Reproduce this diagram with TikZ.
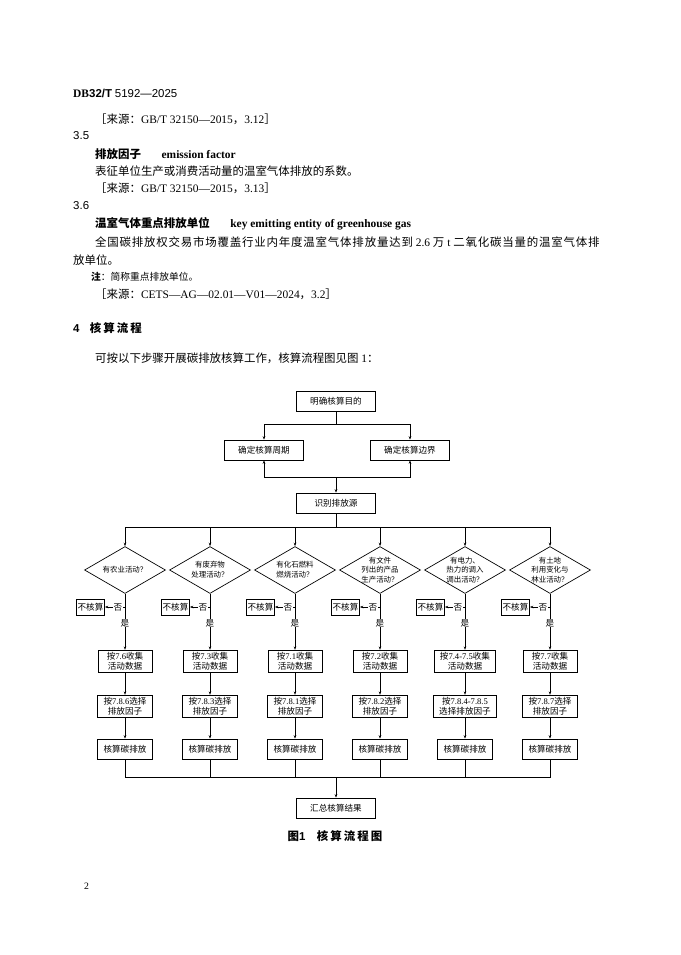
\documentclass[tikz,border=0pt]{standalone}
\usepackage{fontspec}
\setmainfont{Liberation Serif}
\setsansfont{Liberation Sans}
\newfontfamily\cjk{Noto Sans CJK SC}
\newfontfamily\cjkw{Noto Sans CJK SC}[LetterSpace=7]
\newfontfamily\cjks{Noto Sans CJK SC}[LetterSpace=18]
\usetikzlibrary{arrows.meta, positioning, shapes.geometric}

\newcommand{\zh}[1]{{\cjk #1}}

\begin{document}
\begin{tikzpicture}[x=0.8734pt, y=-0.8734pt,
      txt/.style={anchor=west, inner sep=0pt, font=\fontsize{10}{12}\selectfont},
      box/.style={draw, line width=0.6pt, inner sep=1.5pt, align=center,
                  font=\cjk\fontsize{7.5}{9}\selectfont},
      bigbox/.style={box, minimum width=69pt, minimum height=17.5pt},
      smallbox/.style={box, inner xsep=5pt, minimum width=47pt, minimum height=17.5pt},
      skipbox/.style={box, inner sep=1pt, minimum height=14pt},
      dia/.style={draw, line width=0.6pt, diamond, inner sep=0pt,
                  minimum width=70.7pt, minimum height=41pt},
      dtext/.style={align=center, inner sep=0pt, font=\cjk\fontsize{6.5}{8.5}\selectfont},
      lbl/.style={inner sep=0.6pt, font=\cjk\fontsize{7.5}{9}\selectfont},
      arr/.style={-{Stealth[length=3pt, width=2.2pt]}, line width=0.5pt},
      conn/.style={line width=0.5pt}]
    \fill[white] (0,0) rectangle (681,955);
    \useasboundingbox (0,0) rectangle (681,955);

    % page text
    \node[txt] (hdr) at (73,93) {{\bfseries DB}{\sffamily\bfseries 32/T} {\sffamily 5192—2025}};
    \node[txt] (src1) at (95,119) {\zh{［来源：}GB/T 32150—2015\zh{，}3.12\zh{］}};
    \node[txt, font=\sffamily\fontsize{10}{12}\selectfont] (n35) at (73,136) {3.5};
    \node[txt] (term1) at (95,154) {\zh{\bfseries 排放因子}\hspace{1.8em}\textbf{emission factor}};
    \node[txt] (def1) at (95,171) {\zh{表征单位生产或消费活动量的温室气体排放的系数。}};
    \node[txt] (src2) at (95,188) {\zh{［来源：}GB/T 32150—2015\zh{，}3.13\zh{］}};
    \node[txt, font=\sffamily\fontsize{10}{12}\selectfont] (n36) at (73,206) {3.6};
    \node[txt] (term2) at (95,224) {\zh{\bfseries 温室气体重点排放单位}\hspace{1.8em}\textbf{key emitting entity of greenhouse gas}};
    \node[txt] (def2a) at (95,242) {{\cjkw 全国碳排放权交易市场覆盖行业内年度温室气体排放量达到} 2.6 {\cjkw 万} t {\cjkw 二氧化碳当量的温室气体排}};
    \node[txt] (def2b) at (73,260) {\zh{放单位。}};
    \node[txt, font=\fontsize{8.5}{10}\selectfont] (note) at (91,277) {\zh{\bfseries 注}\zh{：简称重点排放单位。}};
    \node[txt] (src3) at (95,294) {\zh{［来源：}CETS—AG—02.01—V01—2024\zh{，}3.2\zh{］}};
    \node[txt] (sec4) at (73,328) {{\sffamily\bfseries 4}\hspace{0.9em}{\cjks\bfseries 核算流程}};
    \node[txt] (intro) at (95,358) {\zh{可按以下步骤开展碳排放核算工作，核算流程图见图} 1\zh{：}};

    % flowchart
    \node[bigbox] (goal)   at (336,401) {明确核算目的};
    \node[bigbox] (period) at (264,450) {确定核算周期};
    \node[bigbox] (bound)  at (410,450) {确定核算边界};
    \node[bigbox] (ident)  at (336,503) {识别排放源};
    \node[bigbox] (total)  at (336,808) {汇总核算结果};
    \coordinate (split)   at (336,424);
    \coordinate (merge)   at (336,477);
    \coordinate (fan)     at (336,527);
    \coordinate (collect) at (336,777);

    \draw[conn] (goal) -- (split);
    \draw[arr] (split) -| (period);
    \draw[arr] (split) -| (bound);
    \draw[arr] (merge) -| (period);
    \draw[arr] (merge) -| (bound);
    \draw[arr] (merge) -- (ident);
    \draw[conn] (ident) -- (fan);
    \draw[arr] (collect) -- (total);

    \foreach \i/\x/\q/\c/\f in {
        1/125/{有农业活动？}/{按{\rmfamily 7.6}收集\\活动数据}/{按{\rmfamily 7.8.6}选择\\排放因子},
        2/210/{有废弃物\\处理活动？}/{按{\rmfamily 7.3}收集\\活动数据}/{按{\rmfamily 7.8.3}选择\\排放因子},
        3/295/{有化石燃料\\燃烧活动？}/{按{\rmfamily 7.1}收集\\活动数据}/{按{\rmfamily 7.8.1}选择\\排放因子},
        4/380/{有文件\\列出的产品\\生产活动？}/{按{\rmfamily 7.2}收集\\活动数据}/{按{\rmfamily 7.8.2}选择\\排放因子},
        5/465/{有电力、\\热力的调入\\调出活动？}/{按{\rmfamily 7.4-7.5}收集\\活动数据}/{按{\rmfamily 7.8.4-7.8.5}\\选择排放因子},
        6/550/{有土地\\利用变化与\\林业活动？}/{按{\rmfamily 7.7}收集\\活动数据}/{按{\rmfamily 7.8.7}选择\\排放因子}} {
      \node[dia] (d\i) at (\x,570) {};
      \node[dtext] (q\i) at (d\i) {\q};
      \node[lbl] (n\i) at ({\x-7},607) {否};
      \node[skipbox] (s\i) at ({\x-34.5},607) {不核算};
      \node[smallbox] (c\i) at (\x,661) {\c};
      \node[smallbox] (f\i) at (\x,706) {\f};
      \node[smallbox] (e\i) at (\x,749) {核算碳排放};
      \draw[arr] (fan) -| (d\i);
      \draw[arr] (d\i) -- (c\i);
      \node[lbl, fill=white] (y\i) at (\x,623) {是};
      \draw[arr] (n\i) -- (s\i);
      \draw[conn] (n\i.east) -- (n\i.east -| d\i.south);
      \draw[arr] (c\i) -- (f\i);
      \draw[arr] (f\i) -- (e\i);
      \draw[conn] (e\i) |- (collect);
    }

    \node[txt, anchor=center] (cap) at (335,836) {{\cjks\bfseries 图}{\sffamily\bfseries 1}\hspace{1em}{\cjks\bfseries 核算流程图}};
    \node[txt, font=\fontsize{8.5}{10}\selectfont] (pno) at (84,886) {2};
  \end{tikzpicture}
\end{document}
